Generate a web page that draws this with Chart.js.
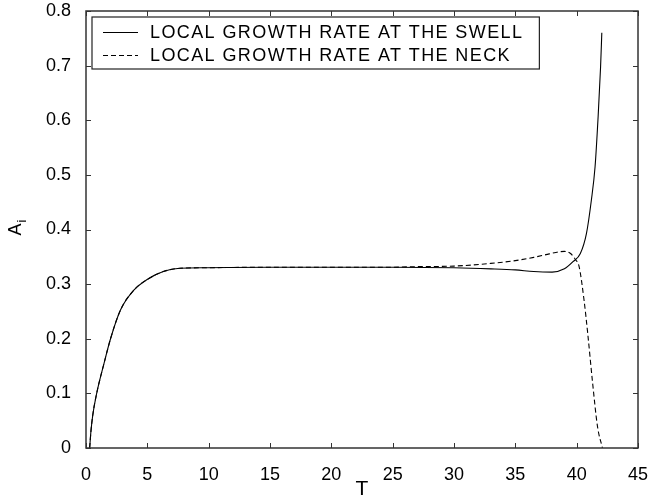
<!DOCTYPE html>
<html>
<head>
<meta charset="utf-8">
<script src="https://cdn.jsdelivr.net/npm/chart.js@4.4.1/dist/chart.umd.min.js"></script>
<style>
  html, body { margin: 0; padding: 0; background: #fff; }
  #wrap { width: 649px; height: 502px; }
</style>
</head>
<body>
<div id="wrap"><canvas id="growth"></canvas></div>
<script>
  // values
  const seriesNames = ['LOCAL GROWTH RATE AT THE SWELL', 'LOCAL GROWTH RATE AT THE NECK'];

  const swellT = [0.3, 0.4, 0.55, 0.87, 1.47, 2.0, 2.82, 3.9, 4.95, 6.3, 7.66, 9.8, 15, 20, 25,
    30, 33, 35, 36.5, 38, 39, 39.7, 40.3, 40.8, 41.2, 41.5, 41.75, 41.95, 42.05];
  const swellA = [0, 0.03, 0.06, 0.1, 0.155, 0.2, 0.253, 0.289, 0.308, 0.323, 0.329, 0.330, 0.331, 0.331, 0.331,
    0.330, 0.328, 0.326, 0.323, 0.322, 0.328, 0.341, 0.356, 0.393, 0.454, 0.515, 0.607, 0.698, 0.76];

  const neckT = [0.3, 0.4, 0.55, 0.87, 1.47, 2.0, 2.82, 3.9, 4.95, 6.3, 7.66, 9.8, 15, 20, 25,
    27, 30, 33, 35, 36.5, 37.5, 38.3, 39.0, 39.5, 39.9, 40.2, 40.6, 40.9, 41.3, 41.7, 42.1];
  const neckA = [0, 0.03, 0.06, 0.1, 0.155, 0.2, 0.253, 0.289, 0.308, 0.323, 0.329, 0.330, 0.331, 0.331, 0.331,
    0.332, 0.333, 0.338, 0.343, 0.349, 0.354, 0.358, 0.360, 0.356, 0.345, 0.332, 0.271, 0.21, 0.119, 0.039, 0.0];

  const xTicks = [0, 5, 10, 15, 20, 25, 30, 35, 40, 45];
  const yTicks = [0, 0.1, 0.2, 0.3, 0.4, 0.5, 0.6, 0.7, 0.8];

  const toPoints = (xs, ys) => xs.map((x, i) => ({ x: x, y: ys[i] }));
  const fontFamily = '"Liberation Sans", Arial, Helvetica, sans-serif';

  // matlab style box with ticks pointing inwards, legend box and A_i label
  const framePlugin = {
    id: 'frame',
    afterDraw: function (chart) {
      const ctx = chart.ctx;
      const a = chart.chartArea;
      const xs = chart.scales.x;
      const ys = chart.scales.y;
      const tl = 5;
      ctx.save();
      ctx.strokeStyle = '#333';
      ctx.lineWidth = 1.5;
      ctx.strokeRect(a.left, a.top, a.right - a.left, a.bottom - a.top);
      ctx.lineWidth = 1;
      ctx.beginPath();
      xTicks.forEach(v => {
        const px = Math.round(xs.getPixelForValue(v)) + 0.5;
        ctx.moveTo(px, a.bottom); ctx.lineTo(px, a.bottom - tl);
        ctx.moveTo(px, a.top); ctx.lineTo(px, a.top + tl);
      });
      yTicks.forEach(v => {
        const py = Math.round(ys.getPixelForValue(v)) + 0.5;
        ctx.moveTo(a.left, py); ctx.lineTo(a.left + tl, py);
        ctx.moveTo(a.right, py); ctx.lineTo(a.right - tl, py);
      });
      ctx.stroke();

      // legend
      ctx.font = '18px ' + fontFamily;
      ctx.letterSpacing = '1.4px';
      const widths = seriesNames.map(s => ctx.measureText(s).width);
      const bx = a.left + 6, by = a.top + 6;
      const bw = 58 + Math.max.apply(null, widths) + 16;
      const bh = 52;
      ctx.fillStyle = '#fff';
      ctx.fillRect(bx, by, bw, bh);
      ctx.strokeStyle = '#222';
      ctx.lineWidth = 1.2;
      ctx.strokeRect(bx, by, bw, bh);
      chart.data.datasets.forEach((ds, i) => {
        const ly = by + 15 + i * 23;
        ctx.strokeStyle = '#000';
        ctx.lineWidth = 1;
        ctx.setLineDash(ds.borderDash || []);
        ctx.beginPath();
        ctx.moveTo(bx + 11, ly + 0.5);
        ctx.lineTo(bx + 46, ly + 0.5);
        ctx.stroke();
        ctx.setLineDash([]);
        ctx.fillStyle = '#000';
        ctx.textBaseline = 'middle';
        ctx.textAlign = 'left';
        ctx.fillText(ds.label, bx + 58, ly + 1);
      });
      ctx.letterSpacing = '0px';

      // y axis title A with subscript i
      ctx.translate(21, (a.top + a.bottom) / 2);
      ctx.rotate(-Math.PI / 2);
      ctx.fillStyle = '#000';
      ctx.textBaseline = 'alphabetic';
      ctx.textAlign = 'left';
      ctx.font = '18px ' + fontFamily;
      ctx.fillText('A', -6, 0);
      const aw = ctx.measureText('A').width;
      ctx.font = '13px ' + fontFamily;
      ctx.fillText('i', -6 + aw + 1, 5);
      ctx.restore();
    }
  };

  new Chart(document.getElementById('growth'), {
    type: 'line',
    data: {
      datasets: [{
        label: seriesNames[0],
        data: toPoints(swellT, swellA),
        borderColor: '#000',
        borderWidth: 1.1,
        pointRadius: 0,
        fill: false,
        cubicInterpolationMode: 'monotone'
      }, {
        label: seriesNames[1],
        data: toPoints(neckT, neckA),
        borderColor: '#000',
        borderWidth: 1.1,
        borderDash: [5, 3],
        pointRadius: 0,
        fill: false,
        cubicInterpolationMode: 'monotone'
      }]
    },
    options: {
      responsive: true,
      maintainAspectRatio: false,
      animation: false,
      events: [],
      layout: { padding: { top: 11, right: 11, left: 0, bottom: 0 } },
      plugins: {
        legend: { display: false },
        title: { display: false },
        tooltip: { enabled: false }
      },
      scales: {
        x: {
          type: 'linear',
          min: 0,
          max: 45,
          afterBuildTicks: s => { s.ticks = xTicks.map(v => ({ value: v })); },
          afterFit: s => { s.height = 54; s.paddingLeft = 0; s.paddingRight = 0; },
          grid: { display: false },
          border: { display: false },
          ticks: {
            color: '#000',
            padding: 8,
            maxRotation: 0,
            font: { family: fontFamily, size: 18 }
          },
          title: {
            display: true,
            text: 'T',
            color: '#000',
            padding: { top: 1, bottom: 0 },
            font: { family: fontFamily, size: 21 }
          }
        },
        y: {
          type: 'linear',
          min: 0,
          max: 0.8,
          afterBuildTicks: s => { s.ticks = yTicks.map(v => ({ value: v })); },
          afterFit: s => { s.width = 86; s.paddingTop = 0; s.paddingBottom = 0; },
          grid: { display: false },
          border: { display: false },
          ticks: {
            color: '#000',
            padding: 7,
            font: { family: fontFamily, size: 18 },
            callback: v => (v === 0 ? '0' : v.toFixed(1))
          }
        }
      }
    },
    plugins: [framePlugin]
  });
</script>
</body>
</html>
